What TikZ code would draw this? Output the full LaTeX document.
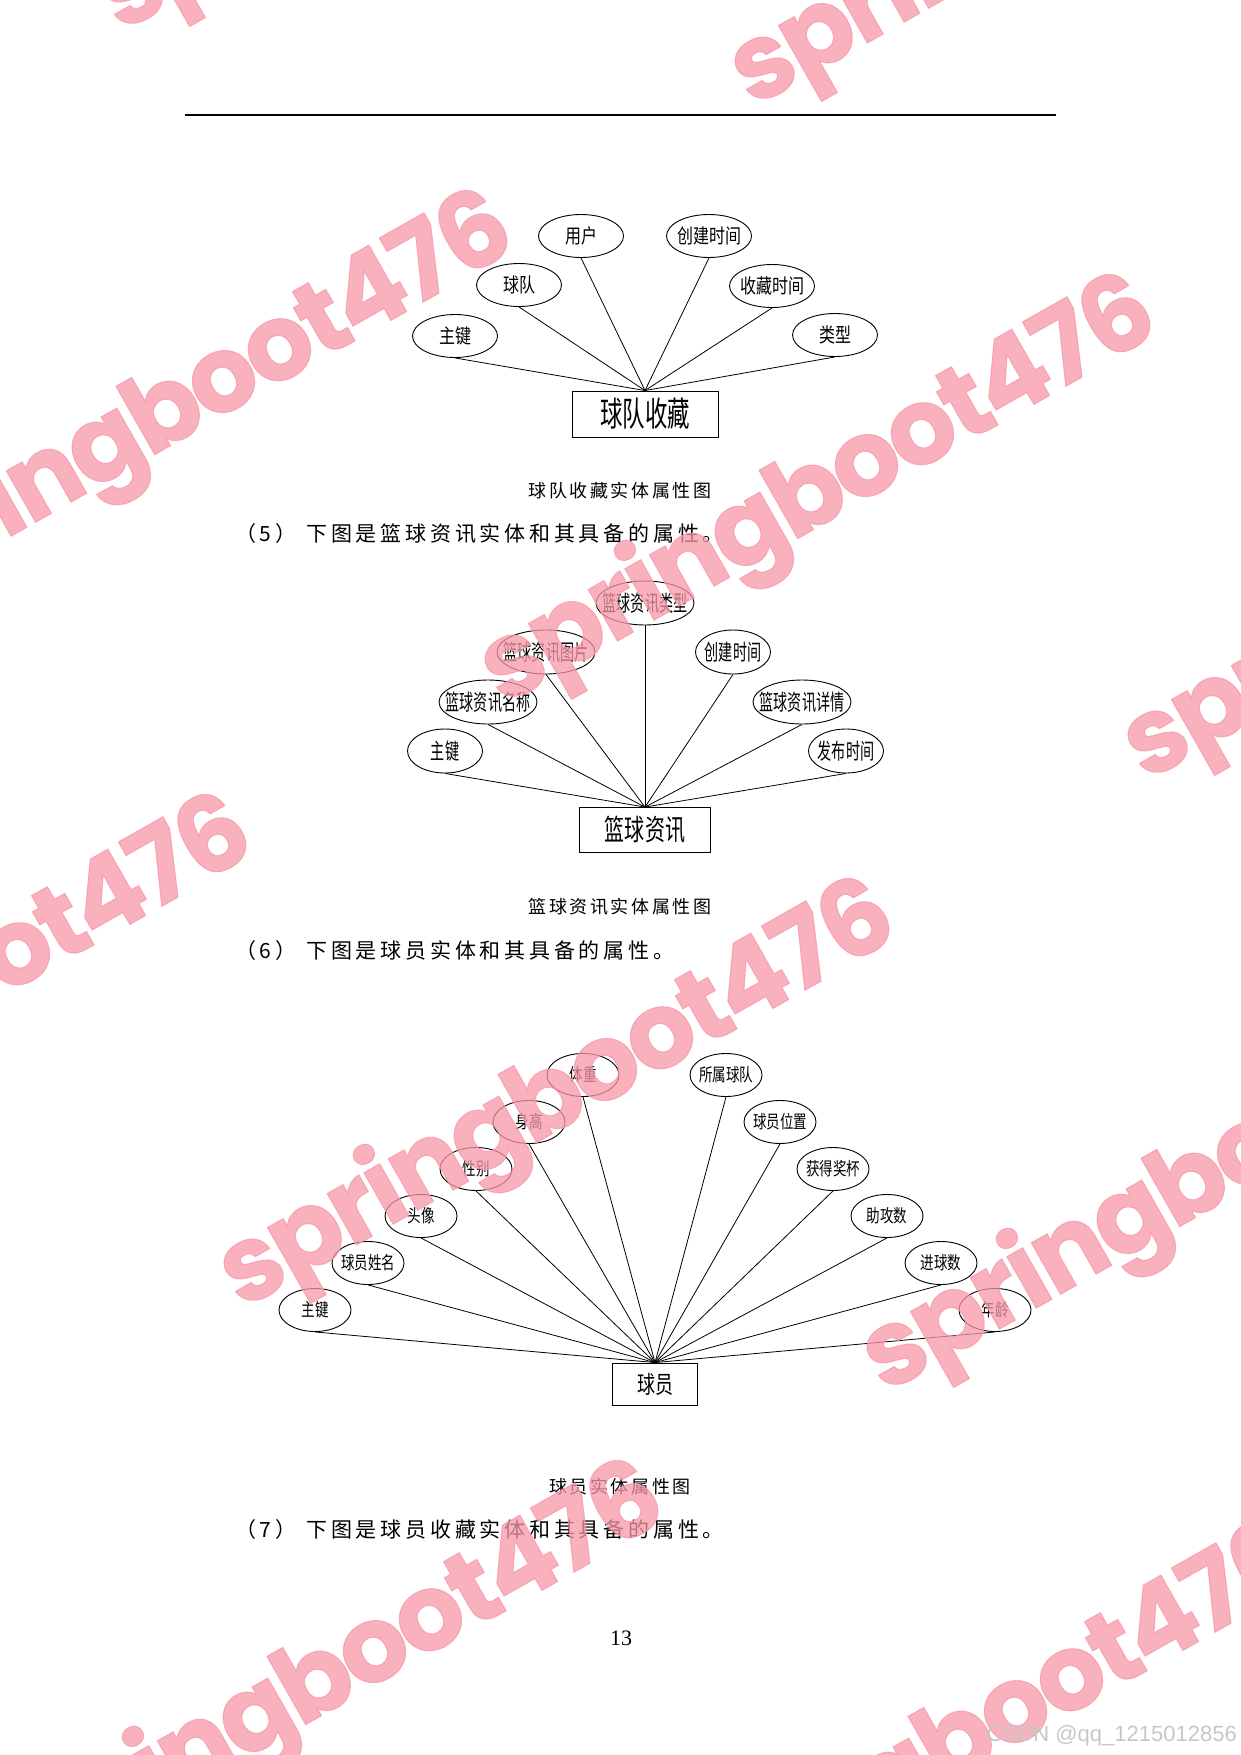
\documentclass[tikz,border=0pt]{standalone}
\usepackage{fontspec}
\setmainfont{Liberation Serif}
\newfontfamily\cjk{Noto Sans CJK SC}
\newfontfamily\wmfont{Poppins}
\newfontfamily\csdnfont{Liberation Sans}
\usetikzlibrary{shapes.geometric}
\definecolor{wmpink}{RGB}{247,152,168}
\tikzset{
  attr/.style={ellipse, draw, line width=0.9, inner xsep=-40pt, inner ysep=0pt},
  ent/.style={rectangle, draw, line width=0.9, inner sep=0pt},
  link/.style={line width=0.8},
  attrA/.style={attr, minimum width=85, minimum height=43,
    font=\cjk\addfontfeature{FakeStretch=0.8}\fontsize{20}{20}\selectfont},
  entA/.style={ent, minimum width=146, minimum height=46,
    font=\cjk\addfontfeature{FakeStretch=0.66}\fontsize{34}{34}\selectfont},
  attrB/.style={attr, minimum width=98, minimum height=44,
    font=\cjk\addfontfeature{FakeStretch=0.64}\fontsize{22}{22}\selectfont},
  entB/.style={ent, minimum width=131, minimum height=45,
    font=\cjk\addfontfeature{FakeStretch=0.69}\fontsize{29}{29}\selectfont},
  attrC/.style={attr, minimum width=72, minimum height=43,
    font=\cjk\addfontfeature{FakeStretch=0.75}\fontsize{18}{18}\selectfont},
  entC/.style={ent, minimum width=85, minimum height=42,
    font=\cjk\addfontfeature{FakeStretch=0.75}\fontsize{24}{24}\selectfont},
  capt/.style={font=\cjk\addfontfeature{LetterSpace=14}\fontsize{18}{18}\selectfont},
  body/.style={anchor=west, inner sep=0pt,
    font=\cjk\addfontfeature{LetterSpace=18}\fontsize{21}{21}\selectfont},
  wm/.style={anchor=base west, rotate=29.6, inner sep=0pt, text=wmpink,
    text opacity=0.75,
    font=\wmfont\bfseries\addfontfeature{LetterSpace=-3,FakeBold=1}\fontsize{106}{106}\selectfont},
}

\begin{document}
\begin{tikzpicture}[x=1pt, y=-1pt]
  \useasboundingbox (0,0) rectangle (1241,1755);
  \fill[white] (0,0) rectangle (1241,1755);

  % header rule
  \draw[line width=2] (185,115) -- (1056,115);

  % team favourite entity
  \node[entA] (tf) at (645,414) {球队收藏};
  \node[attrA] (tf1) at (455,336) {主键};
  \node[attrA] (tf2) at (519,285) {球队};
  \node[attrA] (tf3) at (581,236) {用户};
  \node[attrA] (tf4) at (709,236) {创建时间};
  \node[attrA] (tf5) at (772,286) {收藏时间};
  \node[attrA] (tf6) at (835,335) {类型};
  \foreach \i in {1,...,6}
    \draw[link] (tf\i.south) -- (tf.north);
  \node[capt] (cap1) at (620,491) {球队收藏实体属性图};
  \node[body] (txt5) at (235,534) {（5）\hspace{10pt}下图是篮球资讯实体和其具备的属性。};

  % news entity
  \node[entB] (nw) at (645,830) {篮球资讯};
  \node[attrB, minimum width=75] (nw1) at (445,751) {主键};
  \node[attrB] (nw2) at (488,702) {篮球资讯名称};
  \node[attrB] (nw3) at (546,652) {篮球资讯图片};
  \node[attrB] (nw4) at (645,603) {篮球资讯类型};
  \node[attrB, minimum width=75] (nw5) at (733,652) {创建时间};
  \node[attrB] (nw6) at (802,702) {篮球资讯详情};
  \node[attrB, minimum width=75] (nw7) at (846,751) {发布时间};
  \foreach \i in {1,...,7}
    \draw[link] (nw\i.south) -- (nw.north);
  \node[capt] (cap2) at (620,907) {篮球资讯实体属性图};
  \node[body] (txt6) at (235,951) {（6）\hspace{10pt}下图是球员实体和其具备的属性。};

  % player entity
  \node[entC] (pl) at (655,1384) {球员};
  \node[attrC] (pl1) at (315,1310) {主键};
  \node[attrC] (pl2) at (368,1263) {球员姓名};
  \node[attrC] (pl3) at (421,1216) {头像};
  \node[attrC] (pl4) at (476,1169) {性别};
  \node[attrC] (pl5) at (529,1122) {身高};
  \node[attrC] (pl6) at (583,1075) {体重};
  \node[attrC] (pl7) at (726,1075) {所属球队};
  \node[attrC] (pl8) at (780,1122) {球员位置};
  \node[attrC] (pl9) at (833,1169) {获得奖杯};
  \node[attrC] (pl10) at (887,1216) {助攻数};
  \node[attrC] (pl11) at (941,1263) {进球数};
  \node[attrC] (pl12) at (995,1310) {年龄};
  \foreach \i in {1,...,12}
    \draw[link] (pl\i.south) -- (pl.north);
  \node[capt] (cap3) at (620,1487) {球员实体属性图};
  \node[body] (txt7) at (235,1530) {（7）\hspace{10pt}下图是球员收藏实体和其具备的属性。};

  % page number
  \node (pgno) at (621,1638) {\fontsize{22}{22}\selectfont 13};

  % watermarks
  \foreach \wx/\wy [count=\k] in {121/33, 753/108, -140/622, 503/706, 1146/782,
      -401/1226, 242/1310, 885/1394, 11/1892, 652/1952}
    \node[wm] (wm\k) at (\wx,\wy) {springboot476};
  \node[anchor=base east, text=black!22, inner sep=0pt,
    font=\csdnfont\fontsize{22}{22}\selectfont] (csdn) at (1237,1741) {CSDN @qq\_1215012856};
\end{tikzpicture}
\end{document}
